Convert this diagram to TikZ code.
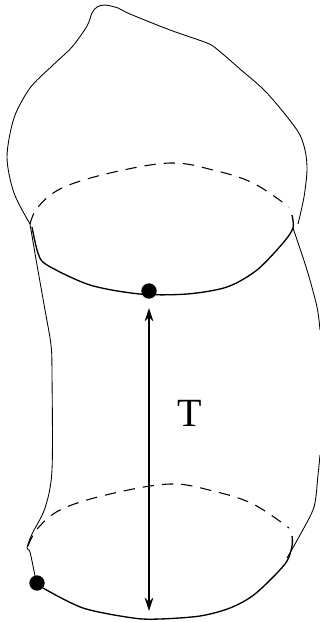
\documentclass[tikz,border=0pt]{standalone}
\usepackage{fontspec}
\setmainfont{Liberation Serif}
\usepackage{tikz}
\usetikzlibrary{arrows.meta,positioning}

\begin{document}
\begin{tikzpicture}[
  x=0.75pt, y=-0.75pt,
  outline/.style={draw, line width=0.65pt},
  rim/.style={draw, line width=1pt},
  hidden/.style={draw, line width=0.8pt, dash pattern=on 8.5pt off 6pt},
  marker/.style={circle, fill=black, draw=none, minimum size=11.5pt, inner sep=0pt},
  span/.style={draw, <->, >={Stealth[length=10pt,width=6.5pt]}, line width=0.85pt}
]
\useasboundingbox (0,0) rectangle (320,622);

% upper cap
\draw[outline] plot[smooth, tension=0.5] coordinates {(30,224) (14,193) (7,157) (14,118) (30,88) (52,66) (72,47) (87,26) (92,13) (97,7) (105,5) (118,8) (130,14) (170,30) (207,43) (218,50) (240,69) (267,93) (297,130) (305,150) (307,170) (304,197) (298,224)};

% left and right walls
\draw[outline] plot[smooth, tension=0.5] coordinates {(30,224) (37,265) (45,310) (51,345) (52,375) (52,470) (45,508) (32,534) (27,548) (30,552) (35,576)};
\draw[outline] plot[smooth, tension=0.5] coordinates {(293,228) (307,270) (317,307) (320,330)};
\draw[outline] plot[smooth, tension=0.5] coordinates {(320,455) (318,475) (314,507) (300,535) (287,558)};

% upper circle
\node[marker] (dotA) at (149,291) {};
\draw[rim] plot[smooth, tension=0.5] coordinates {(32,227) (38,253) (47,265) (90,285) (140,294) (187,294) (227,287) (257,270) (283,243) (293,228) (292,215)};
\draw[hidden] plot[smooth, tension=0.6] coordinates {(30,224) (38,207) (62,188) (110,173) (170,163) (213,170) (253,183) (289,207)};

% lower circle
\node[marker] (dotB) at (37,583) {};
\draw[rim] plot[smooth, tension=0.5] coordinates {(43,588) (83,608) (133,618) (160,619) (200,616) (230,608) (255,594) (285,564) (292,546) (292,536)};
\draw[hidden] plot[smooth, tension=0.6] coordinates {(28,546) (38,528) (62,509) (110,494) (170,484) (213,491) (253,504) (289,528)};

% height
\coordinate (spanTop) at (149,308);
\coordinate (spanBot) at (149,611);
\draw[span] (spanTop) -- (spanBot);
\node[font=\fontsize{30}{30}\selectfont, inner sep=0pt] (lblT) at (190,413) {T};

\end{tikzpicture}
\end{document}
